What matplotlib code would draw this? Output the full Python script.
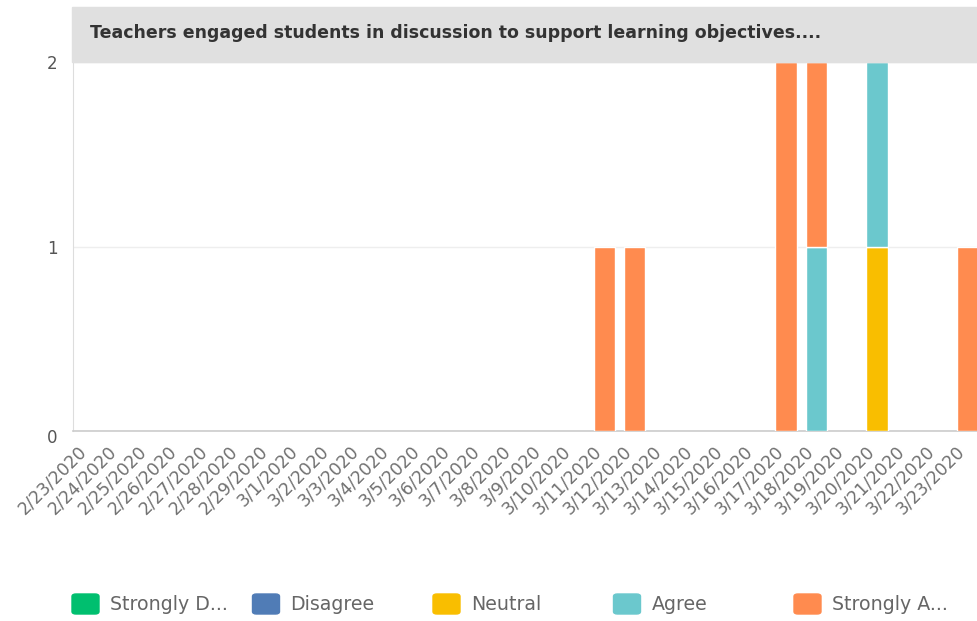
import matplotlib.pyplot as plt
from matplotlib.patches import Rectangle, FancyBboxPatch
from matplotlib.transforms import ScaledTranslation
import numpy as np

dates = ['2/23/2020', '2/24/2020', '2/25/2020', '2/26/2020', '2/27/2020',
         '2/28/2020', '2/29/2020', '3/1/2020', '3/2/2020', '3/3/2020',
         '3/4/2020', '3/5/2020', '3/6/2020', '3/7/2020', '3/8/2020',
         '3/9/2020', '3/10/2020', '3/11/2020', '3/12/2020', '3/13/2020',
         '3/14/2020', '3/15/2020', '3/16/2020', '3/17/2020', '3/18/2020',
         '3/19/2020', '3/20/2020', '3/21/2020', '3/22/2020', '3/23/2020']

# counts per date, one list per answer
strongly_disagree = [0] * 30
disagree = [0] * 30
neutral = [0] * 26 + [1, 0, 0, 0]
agree = [0] * 24 + [1, 0, 1, 0, 0, 0]
strongly_agree = [0] * 17 + [1, 1, 0, 0, 0, 0, 2, 1, 0, 0, 0, 0, 1]

labels = ['Strongly D...', 'Disagree', 'Neutral', 'Agree', 'Strongly A...']
colors = ['#00bf6f', '#507cb6', '#f9be00', '#6bc8cd', '#ff8b4f']
series = [strongly_disagree, disagree, neutral, agree, strongly_agree]

fig = plt.figure(figsize=(9.77, 6.21), dpi=100)
ax = fig.add_axes([73 / 977, 1 - 431 / 621, 1 - 73 / 977, (431 - 62) / 621])

x = np.arange(len(dates))
bottom = np.zeros(len(dates))
for vals, c in zip(series, colors):
    vals = np.array(vals)
    keep = vals > 0
    ax.bar(x[keep], vals[keep], width=0.7, bottom=bottom[keep], color=c,
           edgecolor='white', linewidth=1, zorder=3)
    bottom += vals

ax.set_xlim(-0.53, 29.3)
ax.set_ylim(0, 2)
ax.set_yticks([0, 1, 2])
ax.yaxis.grid(True, color='#eeeeee', linewidth=1, zorder=0)
for s in ['top', 'right']:
    ax.spines[s].set_visible(False)
ax.spines['left'].set_color('#dddddd')
ax.spines['bottom'].set_color('#cccccc')
ax.spines['bottom'].set_linewidth(1.2)
ax.tick_params(axis='y', length=0, pad=11, labelsize=12, labelcolor='#555555')
ax.tick_params(axis='x', length=0, pad=8, labelsize=12.5, labelcolor='#707070')
ax.set_xticks(x)
ax.set_xticklabels(dates, rotation=45, ha='right', va='top',
                   rotation_mode='anchor')
shift = ScaledTranslation(-12 / 100, 0, fig.dpi_scale_trans)
for t in ax.get_xticklabels():
    t.set_transform(t.get_transform() + shift)
ax.get_yticklabels()[0].set_transform(
    ax.get_yticklabels()[0].get_transform() + ScaledTranslation(0, -5 / 100, fig.dpi_scale_trans))

# title band
fig.patches.append(Rectangle((72 / 977, 1 - 62 / 621), 1, 55 / 621,
                             transform=fig.transFigure, color='#e0e0e0', zorder=0))
fig.text(90 / 977, 1 - 33 / 621,
         'Teachers engaged students in discussion to support learning objectives....',
         fontsize=12.5, fontweight='bold', color='#333333', va='center')

# legend
for i, (lab, c) in enumerate(zip(labels, colors)):
    x0 = 72 + i * 180.5
    fig.patches.append(FancyBboxPatch((x0 / 977, 1 - 614 / 621), 27 / 977, 20 / 621,
                                      boxstyle='round,pad=0,rounding_size=0.004',
                                      transform=fig.transFigure, color=c))
    fig.text((x0 + 38) / 977, 1 - 605 / 621, lab, fontsize=13.7, color='#666666',
             va='center')

fig.savefig('out.png', dpi=100)
